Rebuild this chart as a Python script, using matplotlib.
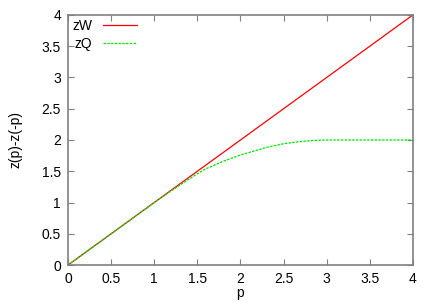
import matplotlib
matplotlib.use("Agg")
import matplotlib.pyplot as plt
from matplotlib.ticker import FuncFormatter, MultipleLocator

plt.rcParams['font.family'] = ['Liberation Sans', 'DejaVu Sans']

# zW: straight line
p_w = [0.0, 4.0]
z_w = [0.0, 4.0]

# zQ: follows zW then saturates at 2
p_q = [0.0, 0.5, 1.0, 1.2, 1.3, 1.4, 1.5, 1.6, 1.7, 1.8, 1.9, 2.0, 2.1, 2.2,
       2.3, 2.4, 2.5, 2.6, 2.7, 2.8, 2.9, 3.0, 3.5, 4.0]
z_q = [0.0, 0.5, 1.0, 1.19, 1.28, 1.37, 1.46, 1.54, 1.60, 1.66, 1.71, 1.76, 1.80, 1.84,
       1.88, 1.91, 1.94, 1.96, 1.975, 1.988, 1.996, 2.0, 2.0, 2.0]

fig = plt.figure(figsize=(4.36, 3.05), dpi=100)
ax = fig.add_axes([0.156, 0.131, 0.791, 0.820])

ax.plot(p_w, z_w, color='#ff0000', lw=0.9, label='zW')
ax.plot(p_q, z_q, color='#00e600', lw=0.9, ls=(0, (2.0, 1.0)), label='zQ')

ax.set_xlim(0, 4)
ax.set_ylim(0, 4)
ax.xaxis.set_major_locator(MultipleLocator(0.5))
ax.yaxis.set_major_locator(MultipleLocator(0.5))
fmt = FuncFormatter(lambda v, pos: '%g' % v)
ax.xaxis.set_major_formatter(fmt)
ax.yaxis.set_major_formatter(fmt)
ax.tick_params(direction='in', top=True, right=True, length=4, width=0.8,
               color='#808080', labelsize=10, pad=5)
for s in ax.spines.values():
    s.set_color('#808080')
    s.set_linewidth(1.2)

ax.set_xlabel('p', fontsize=10, labelpad=0)
ax.set_ylabel('z(p)-z(-p)', fontsize=10, labelpad=14)

leg = ax.legend(loc='upper left', markerfirst=False, frameon=False, fontsize=10,
                handlelength=2.4, handletextpad=0.8, labelspacing=0.25,
                borderaxespad=0.1, borderpad=0.2)

fig.savefig('out.png', dpi=100)
